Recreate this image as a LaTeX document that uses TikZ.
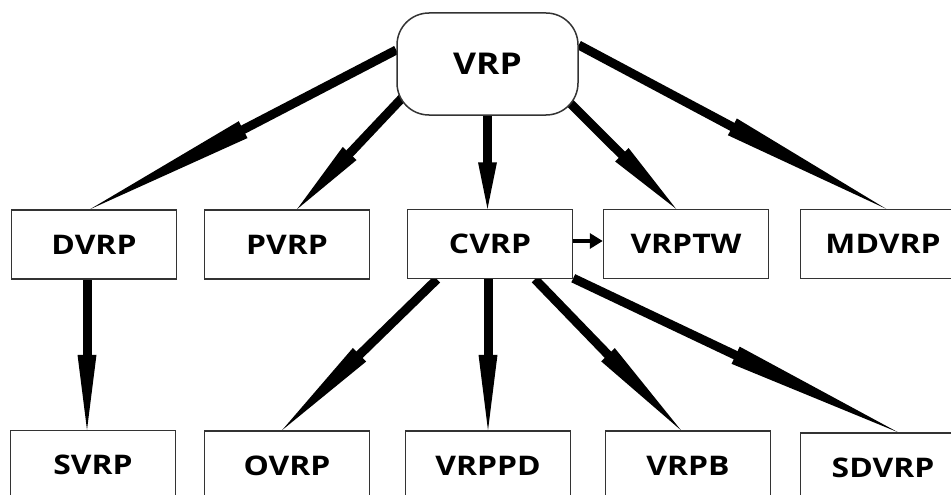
\documentclass[tikz,border=0pt]{standalone}
\usepackage{fontspec}
\newfontfamily\lblfont{Open Sans}[FakeStretch=1.18]
\usetikzlibrary{calc,arrows.meta}
\pgfdeclarelayer{bg}
\pgfsetlayers{bg,main}
\newcommand\fatarr[2]{%
  \coordinate (fam) at ($(#1)!0.5!(#2)$);
  \draw[line width=9pt] (#1) -- ($(#1)!0.53!(#2)$);
  \fill ($(fam)!9.5pt!90:(#2)$) -- (#2) -- ($(fam)!9.5pt!-90:(#2)$) -- cycle;
}
\begin{document}
\begin{tikzpicture}[x=1pt,y=-1pt,
  box/.style={draw=black!80, line width=1.5pt, fill=white, minimum width=165pt,
    minimum height=69pt, inner sep=0pt, font=\lblfont\bfseries\fontsize{27}{31}\selectfont},
  root/.style={box, rounded corners=32pt, minimum width=181pt, minimum height=102pt,
    font=\lblfont\bfseries\fontsize{30}{35}\selectfont}]
\useasboundingbox (0,0) rectangle (951,495);
\clip (0,0) rectangle (951,495);
% nodes
\node[root] (VRP) at (487.5,64) {VRP};
\node[box] (DVRP) at (94,244.5) {DVRP};
\node[box] (PVRP) at (287,244.5) {PVRP};
\node[box] (CVRP) at (490,244) {CVRP};
\node[box] (VRPTW) at (686,244) {VRPTW};
\node[box] (MDVRP) at (883,244) {MDVRP};
\node[box] (SVRP) at (93,465) {SVRP};
\node[box] (OVRP) at (287,465.5) {OVRP};
\node[box] (VRPPD) at (488,465.5) {VRPPD};
\node[box] (VRPB) at (688,465.5) {VRPB};
\node[box] (SDVRP) at (883,467.5) {SDVRP};
% endpoints
\coordinate (s1) at ($(VRP.west)+(0,-14)$);
\coordinate (e1) at ($(DVRP.north)+(-4,0)$);
\coordinate (s2) at ($(VRP.south west)+(6,-18)$);
\coordinate (e2) at ($(PVRP.north)+(10,0)$);
\coordinate (s3) at (VRP.south);
\coordinate (e3) at (VRP.south |- CVRP.north);
\coordinate (s4) at ($(VRP.south east)+(-11,-15)$);
\coordinate (e4) at ($(VRPTW.north)+(-10,0)$);
\coordinate (s5) at ($(VRP.east)+(0,-19)$);
\coordinate (e5) at ($(MDVRP.north)+(3,0)$);
\coordinate (s7) at ($(DVRP.south)+(-7,0)$);
\coordinate (e7) at (s7 |- SVRP.north);
\coordinate (s8) at ($(CVRP.south)+(-53,0)$);
\coordinate (e8) at ($(OVRP.north)+(-5,0)$);
\coordinate (s9) at (VRPPD.north |- CVRP.south);
\coordinate (e9) at (VRPPD.north);
\coordinate (s10) at ($(CVRP.south)+(45,0)$);
\coordinate (e10) at ($(VRPB.north)+(-7,0)$);
\coordinate (s11) at ($(CVRP.south east)+(0,-1)$);
\coordinate (e11) at ($(SDVRP.north)+(15,0)$);
\coordinate (s6) at ($(CVRP.east)+(0,-3)$);
\coordinate (e6) at (s6 -| VRPTW.west);
\begin{pgfonlayer}{bg}
\fill[white] (0,0) rectangle (951,495);
\fatarr{s1}{e1}
\fatarr{s2}{e2}
\fatarr{s3}{e3}
\fatarr{s4}{e4}
\fatarr{s5}{e5}
\fatarr{s7}{e7}
\fatarr{s8}{e8}
\fatarr{s9}{e9}
\fatarr{s10}{e10}
\fatarr{s11}{e11}
\draw[line width=4.5pt, -{Triangle[length=13pt,width=15pt]}] (s6) -- (e6);
\end{pgfonlayer}
\end{tikzpicture}
\end{document}
